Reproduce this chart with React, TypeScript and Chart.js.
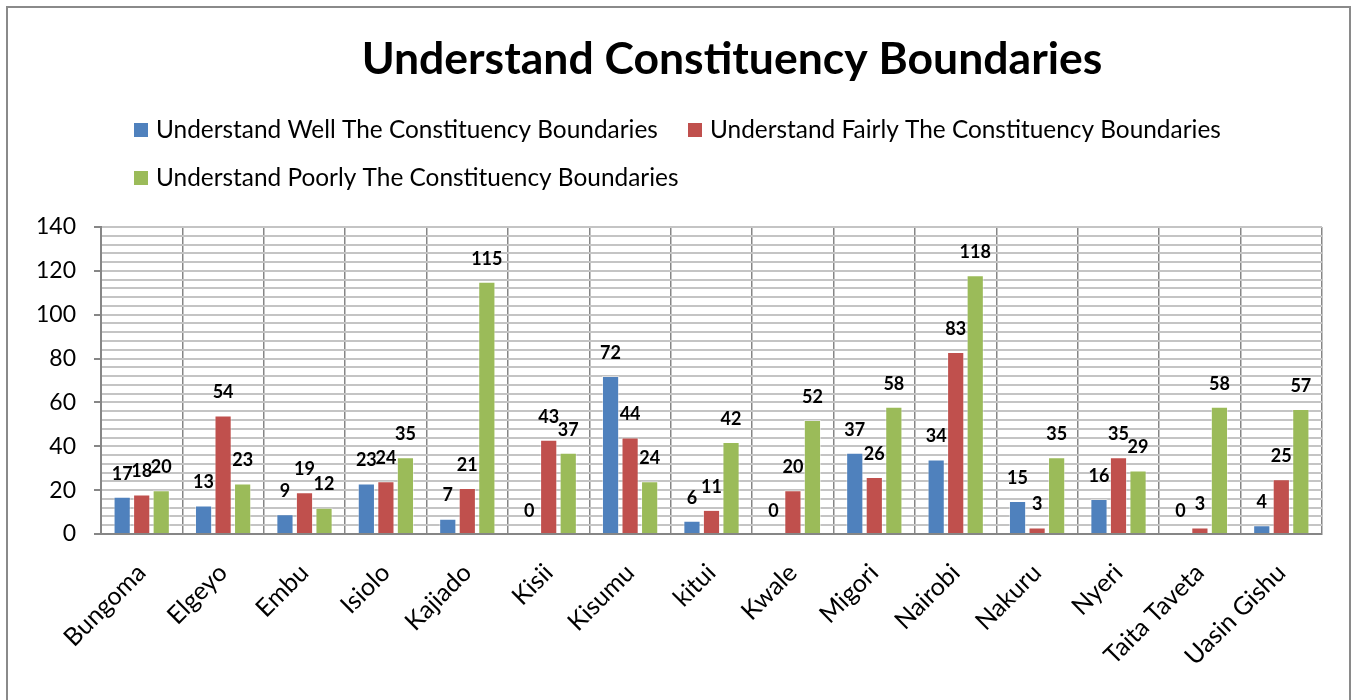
import React, { useEffect, useRef } from "react";
import { Chart, registerables } from "chart.js";

Chart.register(...registerables);

const categories = [
  "Bungoma", "Elgeyo", "Embu", "Isiolo", "Kajiado", "Kisii", "Kisumu", "kitui",
  "Kwale", "Migori", "Nairobi", "Nakuru", "Nyeri", "Taita Taveta", "Uasin Gishu",
];
const seriesNames = [
  "Understand Well The Constituency Boundaries",
  "Understand Fairly The Constituency Boundaries",
  "Understand Poorly The Constituency Boundaries",
];
const wellValues = [17, 13, 9, 23, 7, 0, 72, 6, 0, 37, 34, 15, 16, 0, 4];
const fairlyValues = [18, 54, 19, 24, 21, 43, 44, 11, 20, 26, 83, 3, 35, 3, 25];
const poorlyValues = [20, 23, 12, 35, 115, 37, 24, 42, 52, 58, 118, 35, 29, 58, 57];
const seriesColors = ["#4F81BD", "#C0504D", "#9BBB59"];
const titleText = "Understand Constituency Boundaries";

const FONT = "Lato, 'Open Sans', sans-serif";

const titleLegendPlugin = {
  id: "titleLegend",
  afterDraw(chart: any) {
    const ctx = chart.ctx;
    ctx.save();
    ctx.font = `bold 44.5px ${FONT}`;
    ctx.fillStyle = "#000";
    ctx.textAlign = "center";
    ctx.textBaseline = "middle";
    ctx.fillText(titleText, 732, 60);

    const items = chart.data.datasets.map((d: any, i: number) => ({
      label: d.label,
      color: seriesColors[i],
    }));
    const pos = [
      { x: 134, y: 130 },
      { x: 688, y: 130 },
      { x: 134, y: 178 },
    ];
    ctx.font = `24.4px ${FONT}`;
    ctx.textBaseline = "middle";
    ctx.textAlign = "left";
    items.forEach((it: any, i: number) => {
      const p = pos[i];
      ctx.fillStyle = it.color;
      ctx.fillRect(p.x, p.y - 7, 14, 14);
      ctx.fillStyle = "#000";
      ctx.fillText(it.label, p.x + 22, p.y);
    });
    ctx.restore();
  },
};

const valueLabelPlugin = {
  id: "valueLabels",
  afterDatasetsDraw(chart: any) {
    const ctx = chart.ctx;
    ctx.save();
    ctx.font = `bold 18px ${FONT}`;
    ctx.fillStyle = "#000";
    ctx.textAlign = "center";
    ctx.textBaseline = "middle";
    chart.data.datasets.forEach((ds: any, di: number) => {
      const meta = chart.getDatasetMeta(di);
      meta.data.forEach((el: any, i: number) => {
        ctx.fillText(String(ds.data[i]), el.x, el.y - 23);
      });
    });
    ctx.restore();
  },
};

export default function App() {
  const ref = useRef<HTMLCanvasElement>(null);
  useEffect(() => {
    if (!ref.current) return;
    const values = [wellValues, fairlyValues, poorlyValues];
    const chart = new Chart(ref.current, {
      type: "bar",
      data: {
        labels: categories,
        datasets: seriesNames.map((name, i) => ({
          label: name,
          data: values[i],
          backgroundColor: seriesColors[i],
          borderColor: "rgba(255,255,255,0.45)",
          borderWidth: 1,
          categoryPercentage: 0.72,
          barPercentage: 0.88,
        })),
      },
      options: {
        animation: false,
        responsive: false,
        maintainAspectRatio: false,
        layout: { padding: { left: 0, right: 29, top: 227, bottom: 0 } },
        plugins: {
          legend: { display: false },
          tooltip: { enabled: false },
          title: { display: false },
        },
        scales: {
          x: {
            grid: {
              color: "#868686",
              lineWidth: 1.5,
              offset: true,
              drawTicks: false,
            },
            border: { display: true, color: "#868686", width: 2 },
            ticks: {
              color: "#000",
              font: { family: FONT, size: 25 },
              minRotation: 45,
              maxRotation: 45,
              autoSkip: false,
              padding: 24,
            },
            afterFit: (s: any) => {
              s.height = 166;
            },
          },
          y: {
            min: 0,
            max: 140,
            grid: {
              color: "#c4c4c4",
              lineWidth: 2,
              drawTicks: true,
              tickLength: 7,
              tickColor: (c: any) =>
                c.tick && c.tick.value % 20 === 0 ? "#868686" : "rgba(0,0,0,0)",
            },
            border: { display: true, color: "#868686", width: 2 },
            ticks: {
              stepSize: 4,
              autoSkip: false,
              color: "#000",
              font: { family: FONT, size: 23 },
              padding: 18,
              callback: (v: any) => (Number(v) % 20 === 0 ? String(v) : ""),
            },
            afterFit: (s: any) => {
              s.width = 101;
            },
          },
        },
      },
      plugins: [titleLegendPlugin, valueLabelPlugin],
    });
    return () => chart.destroy();
  }, []);
  return (
    <div style={{ position: "absolute", left: 0, top: 0, width: 1351, height: 700, background: "#fff" }}>
      <canvas ref={ref} width={1351} height={700} style={{ position: "absolute", left: 0, top: 0 }} />
      <div
        style={{
          position: "absolute",
          left: 6,
          top: 6,
          width: 1341,
          height: 720,
          border: "2px solid #8a8a8a",
          pointerEvents: "none",
        }}
      />
    </div>
  );
}
